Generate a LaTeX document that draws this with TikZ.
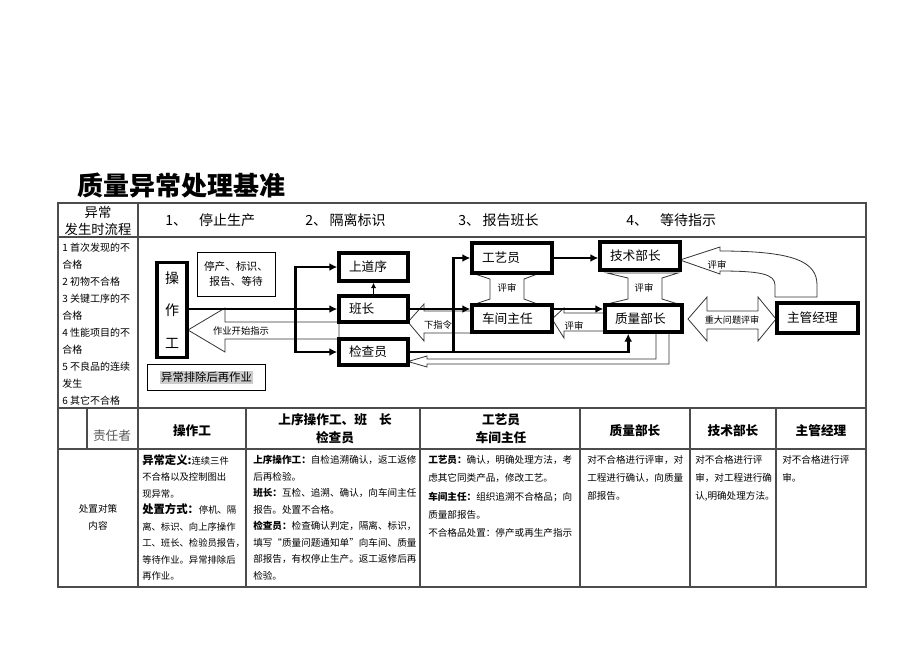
\documentclass[tikz,border=0pt]{standalone}
\usepackage{fontspec}
\setmainfont{Noto Sans CJK SC}
\usetikzlibrary{arrows.meta,calc}
\setlength{\fboxsep}{0.8pt}

\begin{document}
\begin{tikzpicture}[x=0.75pt,y=-0.75pt,>={Latex[length=6pt,width=6pt]},
  rule/.style={draw=black!70,line width=0.8pt},
  tbox/.style={draw,line width=2.6pt,fill=white,inner xsep=7.5pt,inner ysep=0pt,align=left,font=\fontsize{9.5}{11}\selectfont},
  sbox/.style={draw,line width=0.7pt,fill=white,inner sep=0pt,align=center},
  hollow/.style={draw=black!80,line width=0.6pt,fill=white},
  flow/.style={line width=2pt,->},
  lbl/.style={inner sep=0pt,font=\fontsize{7}{8}\selectfont},
  hd/.style={inner sep=0pt,font=\fontsize{10.5}{12}\selectfont},
  thd/.style={inner sep=0pt,align=center,font=\fontsize{9.5}{13.5}\selectfont\bfseries},
  cell/.style={inner sep=0pt,anchor=north west,align=left,font=\fontsize{7.2}{12.4}\selectfont}]
        \fill[white] (0,0) rectangle (920,651);
        \node[anchor=west,inner sep=0pt,font=\fontsize{19.5}{22}\selectfont\bfseries] (title) at (77,186) {质量异常处理基准};

        \draw[rule] (58,203) rectangle (866,587);
        \draw[rule] (58,237) -- (866,237) (58,408) -- (866,408) (58,449) -- (866,449);
        \draw[rule] (138,203) -- (138,587);
        \draw[rule] (87,408) -- (87,449);
        \foreach \x in {246,420,580,690,776}
            \draw[rule] (\x,408) -- (\x,587);

        \node[hd,font=\fontsize{10}{12}\selectfont] (yc) at (98,212) {异常};
        \node[hd,font=\fontsize{10}{12}\selectfont] (fssl) at (98,229) {发生时流程};
        \node[hd,anchor=west] (s1) at (165,220) {1、\hspace{9pt}停止生产};
        \node[hd,anchor=west] (s2) at (305,220) {2、\hspace{2pt}隔离标识};
        \node[hd,anchor=west] (s3) at (458,220) {3、\hspace{2pt}报告班长};
        \node[hd,anchor=west] (s4) at (626,220) {4、\hspace{9pt}等待指示};
        \node[cell,font=\fontsize{7.5}{12.75}\selectfont] (lst) at (62,243) {1 首次发现的不\\合格\\2 初物不合格\\3 关键工序的不\\合格\\4 性能项目的不\\合格\\5 不良品的连续\\发生\\6 其它不合格};

        \draw[hollow] (188,330) -- (225,308) -- (225,322) -- (339,322) -- (339,339) -- (225,339) -- (225,352) -- cycle;
        \draw[hollow] (408,322) -- (424,304) -- (424,311) -- (472,311) -- (472,333) -- (424,333) -- (424,341) -- cycle;
        \draw[hollow] (552,319) -- (564,308) -- (564,313) -- (605,313) -- (605,331) -- (564,331) -- (564,338) -- cycle;
        \draw[hollow] (472,273) -- (490,279) -- (490,299) -- (472,305) -- (540,305) -- (524,299) -- (524,279) -- (540,273) -- cycle;
        \draw[hollow] (607,273) -- (628,278) -- (628,299) -- (607,304) -- (678,304) -- (662,299) -- (662,278) -- (678,273) -- cycle;
        \draw[hollow] (680,260) -- (720,247) -- (720,251) .. controls (795,251) and (817,262) .. (817,285) -- (817,297) -- (775,297) -- (775,285) .. controls (775,274) and (760,271) .. (720,271) -- (720,274) -- cycle;
        \draw[hollow] (688,319) -- (707,297) -- (707,311) -- (758,311) -- (758,297) -- (776,319) -- (758,341) -- (758,329) -- (707,329) -- (707,341) -- cycle;
        \draw[hollow,fill=none] (656,332) -- (656,359) -- (427,359) -- (427,356) -- (408,361.5) -- (427,367) -- (427,364) -- (669,364) -- (669,332);
        \node[lbl] (zyks) at (241,331) {作业开始指示};
        \node[lbl] (xzl) at (438,325) {下指令};
        \node[lbl] (ps1) at (574,326) {评审};
        \node[lbl] (ps2) at (507,288) {评审};
        \node[lbl] (ps3) at (644,288) {评审};
        \node[lbl] (ps4) at (717,265) {评审};
        \node[lbl,font=\fontsize{6.8}{8}\selectfont] (zdwt) at (732,320) {重大问题评审};

        \node[tbox,inner xsep=0pt,align=center,minimum width=22.5pt,minimum height=71pt,font=\fontsize{10.5}{12.6}\selectfont] (czg) at (172,310) {操\\[12pt]作\\[12pt]工};
        \node[sbox,minimum width=58.5pt,minimum height=33pt,font=\fontsize{8}{11.25}\selectfont] (tcbz) at (236,274) {停产、标识、\\报告、等待};
        \node[sbox,minimum width=88pt,minimum height=19pt,font=\fontsize{8.5}{10}\selectfont] (pcbz) at (206.5,377.5) {\colorbox{black!20}{异常排除后再作业}};
        \node[tbox,text width=36.75pt,minimum height=21pt] (sds) at (373.5,267) {上道序};
        \node[tbox,text width=36.75pt,minimum height=19.5pt] (bz) at (373.5,309) {班长};
        \node[tbox,text width=36.75pt,minimum height=19.5pt] (jcy) at (373.5,352) {检查员};
        \node[tbox,text width=45pt,minimum height=22.5pt] (gyy) at (512,258) {工艺员};
        \node[tbox,text width=45pt,minimum height=20.25pt] (cjzr) at (512,318.5) {车间主任};
        \node[tbox,text width=45pt,minimum height=21pt] (jsbz) at (640,256) {技术部长};
        \node[tbox,text width=42.75pt,minimum height=20.25pt] (zlbz) at (643.5,318.5) {质量部长};
        \node[tbox,text width=45.75pt,minimum height=22.5pt] (zgjl) at (817.5,318) {主管经理};

        \coordinate (fk) at ($(czg.east |- bz.west)!0.72!(bz.west)$);
        \coordinate (qc) at ($(zlbz.south west)!0.31!(zlbz.south east)$);
        \coordinate (br) at ($(jcy.east)!0.2!(jcy.east -| qc)$);
        \draw[flow] (czg.east |- bz.west) -- (bz.west);
        \draw[flow,<->] (sds.west) -| (fk) |- (jcy.west);
        \draw[line width=0.8pt,-{Latex[length=4pt,width=4pt]}] (bz.north) -- (sds.south);
        \draw[flow] (bz.east) -- (bz.east -| cjzr.west);
        \draw[flow] (cjzr.east |- bz.east) -- (bz.east -| zlbz.west);
        \draw[flow] (jcy.east) -| (qc);
        \draw[flow] (br) |- (gyy.west);
        \draw[flow] (gyy.east) -- (gyy.east -| jsbz.west);

        \node[inner sep=0pt,text=black!65,font=\fontsize{9.5}{12}\selectfont] (zrz) at (112,436) {责任者};
        \node[thd] (h1) at (192,431) {操作工};
        \node[thd] (h2) at (335,429) {上序操作工、班\hspace{9pt}长\\检查员};
        \node[thd] (h3) at (501,429) {工艺员\\车间主任};
        \node[thd] (h4) at (635,431) {质量部长};
        \node[thd] (h5) at (733,431) {技术部长};
        \node[thd] (h6) at (821,431) {主管经理};

        \node[inner sep=0pt,align=center,font=\fontsize{7.2}{13}\selectfont] (czdc) at (98,517) {处置对策\\内容};
        \node[cell,font=\fontsize{7}{12.4}\selectfont] (c2) at (142,454) {{\fontsize{8.5}{10}\selectfont\bfseries 异常定义:}连续三件\\不合格以及控制图出\\现异常。\\{\fontsize{8.5}{10}\selectfont\bfseries 处置方式：}停机、隔\\离、标识、向上序操作\\工、班长、检验员报告，\\等待作业。异常排除后\\再作业。};
        \node[cell] (c3) at (253,455) {\textbf{上序操作工：}自检追溯确认，返工返修\\后再检验。\\\textbf{班长：}互检、追溯、确认，向车间主任\\报告。处置不合格。\\\textbf{检查员：}检查确认判定，隔离、标识，\\填写“质量问题通知单”向车间、质量\\部报告，有权停止生产。返工返修后再\\检验。};
        \node[cell,font=\fontsize{7.2}{13.7}\selectfont] (c4) at (428,455) {\textbf{工艺员：}确认，明确处理方法，考\\虑其它同类产品，修改工艺。\\\textbf{车间主任：}组织追溯不合格品；向\\质量部报告。\\不合格品处置：停产或再生产指示};
        \node[cell,font=\fontsize{7.2}{13.7}\selectfont] (c5) at (587,455) {对不合格进行评审，对\\工程进行确认，向质量\\部报告。};
        \node[cell,font=\fontsize{7.2}{13.7}\selectfont] (c6) at (695,455) {对不合格进行评\\审，对工程进行确\\认,明确处理方法。};
        \node[cell,font=\fontsize{7.2}{13.7}\selectfont] (c7) at (782,455) {对不合格进行评\\审。};
\end{tikzpicture}
\end{document}
